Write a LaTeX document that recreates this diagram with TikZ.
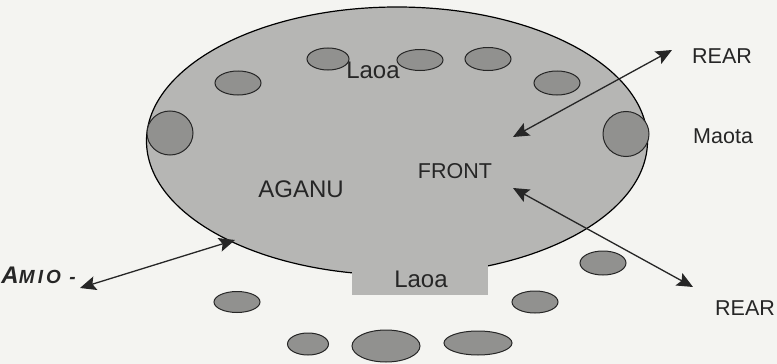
\documentclass[tikz,border=0pt]{standalone}
\usepackage{fontspec}
\setmainfont{Liberation Sans}
\usetikzlibrary{shapes.geometric,arrows.meta}

\definecolor{paper}{RGB}{244,244,241}
\definecolor{fieldgray}{RGB}{182,182,180}
\definecolor{seatgray}{RGB}{145,145,143}

\tikzset{
  field/.style={ellipse,draw=black,line width=1.2pt,fill=fieldgray,inner sep=0pt},
  seat/.style={ellipse,draw=black!85,line width=1pt,fill=seatgray,inner sep=0pt},
  label/.style={font=\fontsize{21.5}{24}\selectfont,text=black!85,inner sep=0pt},
  biglabel/.style={font=\fontsize{24}{27}\selectfont,text=black!85,inner sep=0pt},
  twoway/.style={{Stealth[length=16pt,width=14pt,inset=3pt]}-{Stealth[length=16pt,width=14pt,inset=3pt]},line width=1.3pt,draw=black!85}
}

\begin{document}
\begin{tikzpicture}[x=1pt,y=1pt]
  \path[use as bounding box,fill=paper] (0,0) rectangle (777,-364);

  % the malae
  \node[field,minimum width=501pt,minimum height=268pt] (fale) at (397,-141) {};
  \node[fill=fieldgray,minimum width=136pt,minimum height=32pt,inner sep=0pt] (front) at (420,-279) {};

  % posts inside the fale
  \node[seat,minimum width=46pt,minimum height=44pt] (posta) at (170,-133) {};
  \node[seat,minimum width=46pt,minimum height=24pt] (postb) at (238,-83) {};
  \node[seat,minimum width=42pt,minimum height=22pt] (postc) at (328,-59) {};
  \node[seat,minimum width=46pt,minimum height=21pt] (postd) at (420,-60) {};
  \node[seat,minimum width=46pt,minimum height=23pt] (poste) at (488,-59) {};
  \node[seat,minimum width=46pt,minimum height=24pt] (postf) at (557,-83) {};
  \node[seat,minimum width=46pt,minimum height=45pt] (postg) at (626,-134) {};

  % people outside
  \node[seat,minimum width=46pt,minimum height=21pt] (outa) at (237,-302) {};
  \node[seat,minimum width=41pt,minimum height=22pt] (outb) at (308,-344) {};
  \node[seat,minimum width=68pt,minimum height=32pt] (outc) at (386,-346) {};
  \node[seat,minimum width=68pt,minimum height=24pt] (outd) at (478,-343) {};
  \node[seat,minimum width=46pt,minimum height=22pt] (oute) at (535,-302) {};
  \node[seat,minimum width=46pt,minimum height=24pt] (outf) at (603,-263) {};

  % labels
  \node[biglabel,anchor=base] (laoatop) at (373,-78) {Laoa};
  \node[biglabel,anchor=base] (laoabot) at (421,-287) {Laoa};
  \node[biglabel,anchor=base] (aganu) at (301,-197) {AGANU};
  \node[label,anchor=base] (fronttxt) at (455,-178) {FRONT};
  \node[label,anchor=base west] (reartop) at (692,-63) {REAR};
  \node[label,anchor=base west] (maota) at (693,-143) {Maota};
  \node[label,anchor=base west] (rearbot) at (715,-315) {REAR};
  \node[anchor=base east,inner sep=0pt,text=black!85] (amio) at (76,-283)
    {\bfseries\itshape\fontsize{24}{26}\selectfont A\fontsize{19}{21}\selectfont M\,I\,O\, -};

  \coordinate (rtin) at (513,-137);
  \coordinate (rtout) at (672,-50);
  \coordinate (rbin) at (513,-188);
  \coordinate (rbout) at (693,-287);
  \coordinate (amout) at (80,-288);
  \coordinate (amin) at (235,-240);

  \draw[twoway] (rtin) -- (rtout);
  \draw[twoway] (rbin) -- (rbout);
  \draw[twoway] (amout) -- (amin);
\end{tikzpicture}
\end{document}
